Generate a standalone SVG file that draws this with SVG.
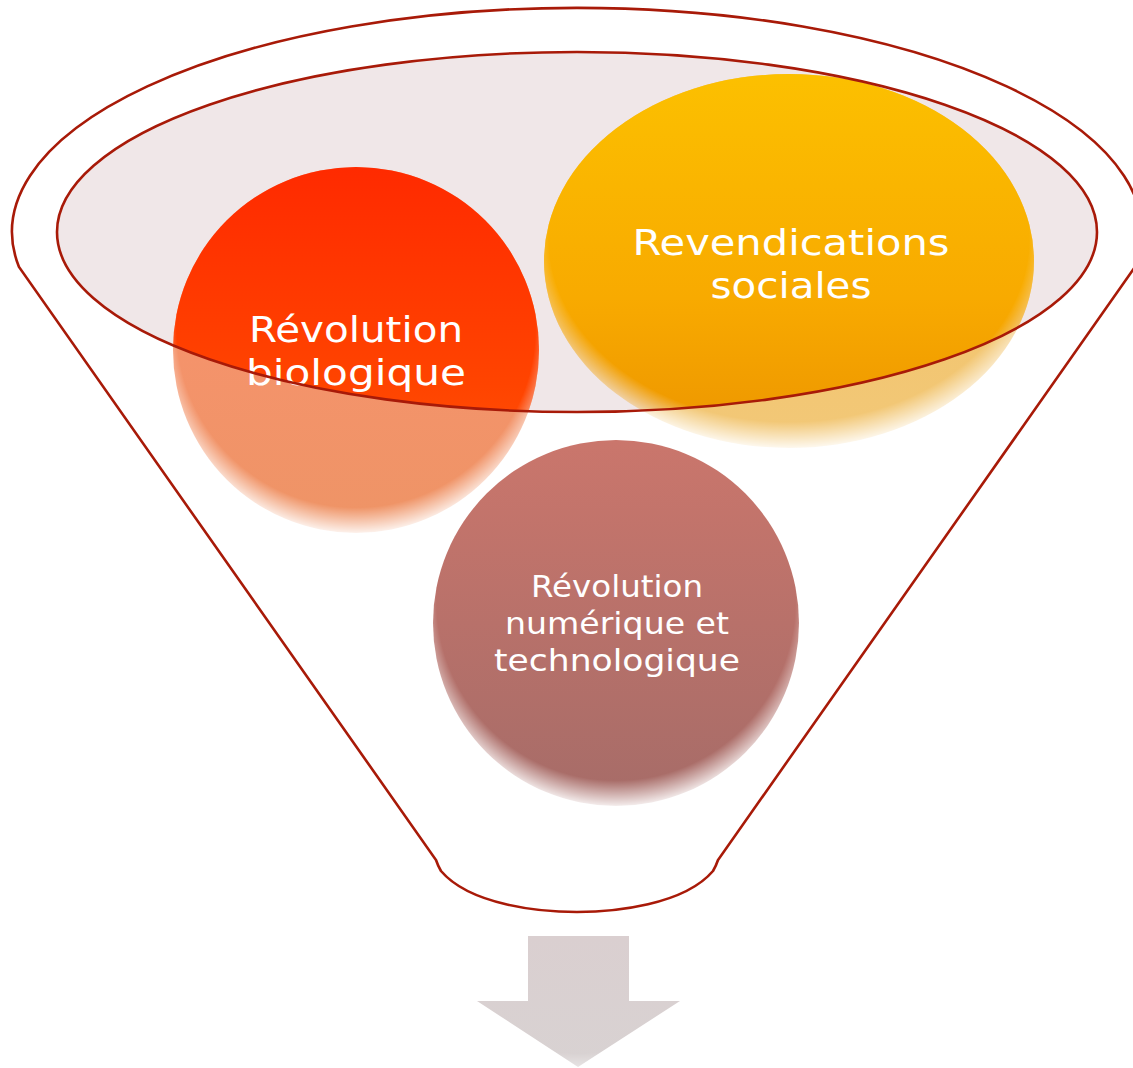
<svg xmlns="http://www.w3.org/2000/svg" width="1133" height="1068" viewBox="0 0 1133 1068">
<style>
.outline{fill:none;stroke:#a81a08;stroke-width:2.6}
.lbl{font-family:"DejaVu Sans",sans-serif;fill:#ffffff;text-anchor:middle}
</style>
<defs>
<radialGradient id="fadeG" cx="0.5" cy="0.44" r="0.57">
<stop offset="0" stop-color="#fff"/>
<stop offset="0.86" stop-color="#fff"/>
<stop offset="1" stop-color="#000"/>
</radialGradient>
<mask id="fade" maskContentUnits="objectBoundingBox">
<rect x="0" y="0" width="1" height="1" fill="url(#fadeG)"/>
</mask>
<radialGradient id="arrFadeG" cx="0.5" cy="0.4" r="0.62">
<stop offset="0" stop-color="#fff"/>
<stop offset="0.8" stop-color="#fff"/>
<stop offset="1" stop-color="#888"/>
</radialGradient>
<mask id="arrFade" maskContentUnits="objectBoundingBox">
<rect x="0" y="0" width="1" height="1" fill="url(#arrFadeG)"/>
</mask>
<clipPath id="inner"><ellipse cx="577" cy="232" rx="520" ry="180"/></clipPath>
<linearGradient id="c1v" x1="0" y1="0" x2="0" y2="1">
<stop offset="0" stop-color="#ff2a00"/>
<stop offset="0.6" stop-color="#ff4400"/>
<stop offset="1" stop-color="#ff5a10"/>
</linearGradient>
<linearGradient id="c1p" x1="0" y1="0" x2="0" y2="1">
<stop offset="0" stop-color="#fb9270"/>
<stop offset="1" stop-color="#ee9466"/>
</linearGradient>
<linearGradient id="c2v" x1="0" y1="0" x2="0" y2="1">
<stop offset="0" stop-color="#fcc000"/>
<stop offset="0.6" stop-color="#f8aa00"/>
<stop offset="1" stop-color="#ec9400"/>
</linearGradient>
<linearGradient id="c2p" x1="0" y1="0" x2="0" y2="1">
<stop offset="0" stop-color="#f3c060"/>
<stop offset="1" stop-color="#f2c878"/>
</linearGradient>
<linearGradient id="c3" x1="0" y1="0" x2="0" y2="1">
<stop offset="0" stop-color="#ca766c"/>
<stop offset="1" stop-color="#a66c68"/>
</linearGradient>
<linearGradient id="arr" x1="0" y1="0" x2="0" y2="1">
<stop offset="0" stop-color="#dacfd0"/>
<stop offset="1" stop-color="#d8d2d2"/>
</linearGradient>
</defs>

<g id="funnel">
<path class="outline" d="M19,267 A565,224 0 1 1 1135,267 L718,860 Q716,866 713,871 C684,905 614,912 577,912 C540,912 470,905 441,871 Q438,866 436,860 Z"/>
<ellipse cx="577" cy="232" rx="520" ry="180" fill="#f0e7e8"/>
</g>

<g id="node-biologique">
<g mask="url(#fade)">
<circle cx="356" cy="350" r="183" fill="url(#c1p)"/>
<circle cx="356" cy="350" r="183" fill="url(#c1v)" clip-path="url(#inner)"/>
</g>
<text class="lbl" x="356" y="342" font-size="36" textLength="214" lengthAdjust="spacingAndGlyphs">Révolution</text>
<text class="lbl" x="356" y="385" font-size="36" textLength="220" lengthAdjust="spacingAndGlyphs">biologique</text>
</g>

<g id="node-sociales">
<g mask="url(#fade)">
<ellipse cx="789" cy="261" rx="245" ry="187" fill="url(#c2p)"/>
<ellipse cx="789" cy="261" rx="245" ry="187" fill="url(#c2v)" clip-path="url(#inner)"/>
</g>
<text class="lbl" x="791" y="255" font-size="36" textLength="317" lengthAdjust="spacingAndGlyphs">Revendications</text>
<text class="lbl" x="791" y="298" font-size="36" textLength="161" lengthAdjust="spacingAndGlyphs">sociales</text>
</g>

<g id="node-numerique">
<circle cx="616" cy="623" r="183" fill="url(#c3)" mask="url(#fade)"/>
<text class="lbl" x="617" y="597" font-size="30" textLength="172" lengthAdjust="spacingAndGlyphs">Révolution</text>
<text class="lbl" x="617" y="634" font-size="30" textLength="224" lengthAdjust="spacingAndGlyphs">numérique et</text>
<text class="lbl" x="617" y="671" font-size="30" textLength="246" lengthAdjust="spacingAndGlyphs">technologique</text>
</g>

<g id="connectors">
<ellipse class="outline" cx="577" cy="232" rx="520" ry="180"/>
<path d="M528,936 L629,936 L629,1001 L680,1001 L578,1067 L477,1001 L528,1001 Z" fill="url(#arr)" mask="url(#arrFade)"/>
</g>
</svg>
